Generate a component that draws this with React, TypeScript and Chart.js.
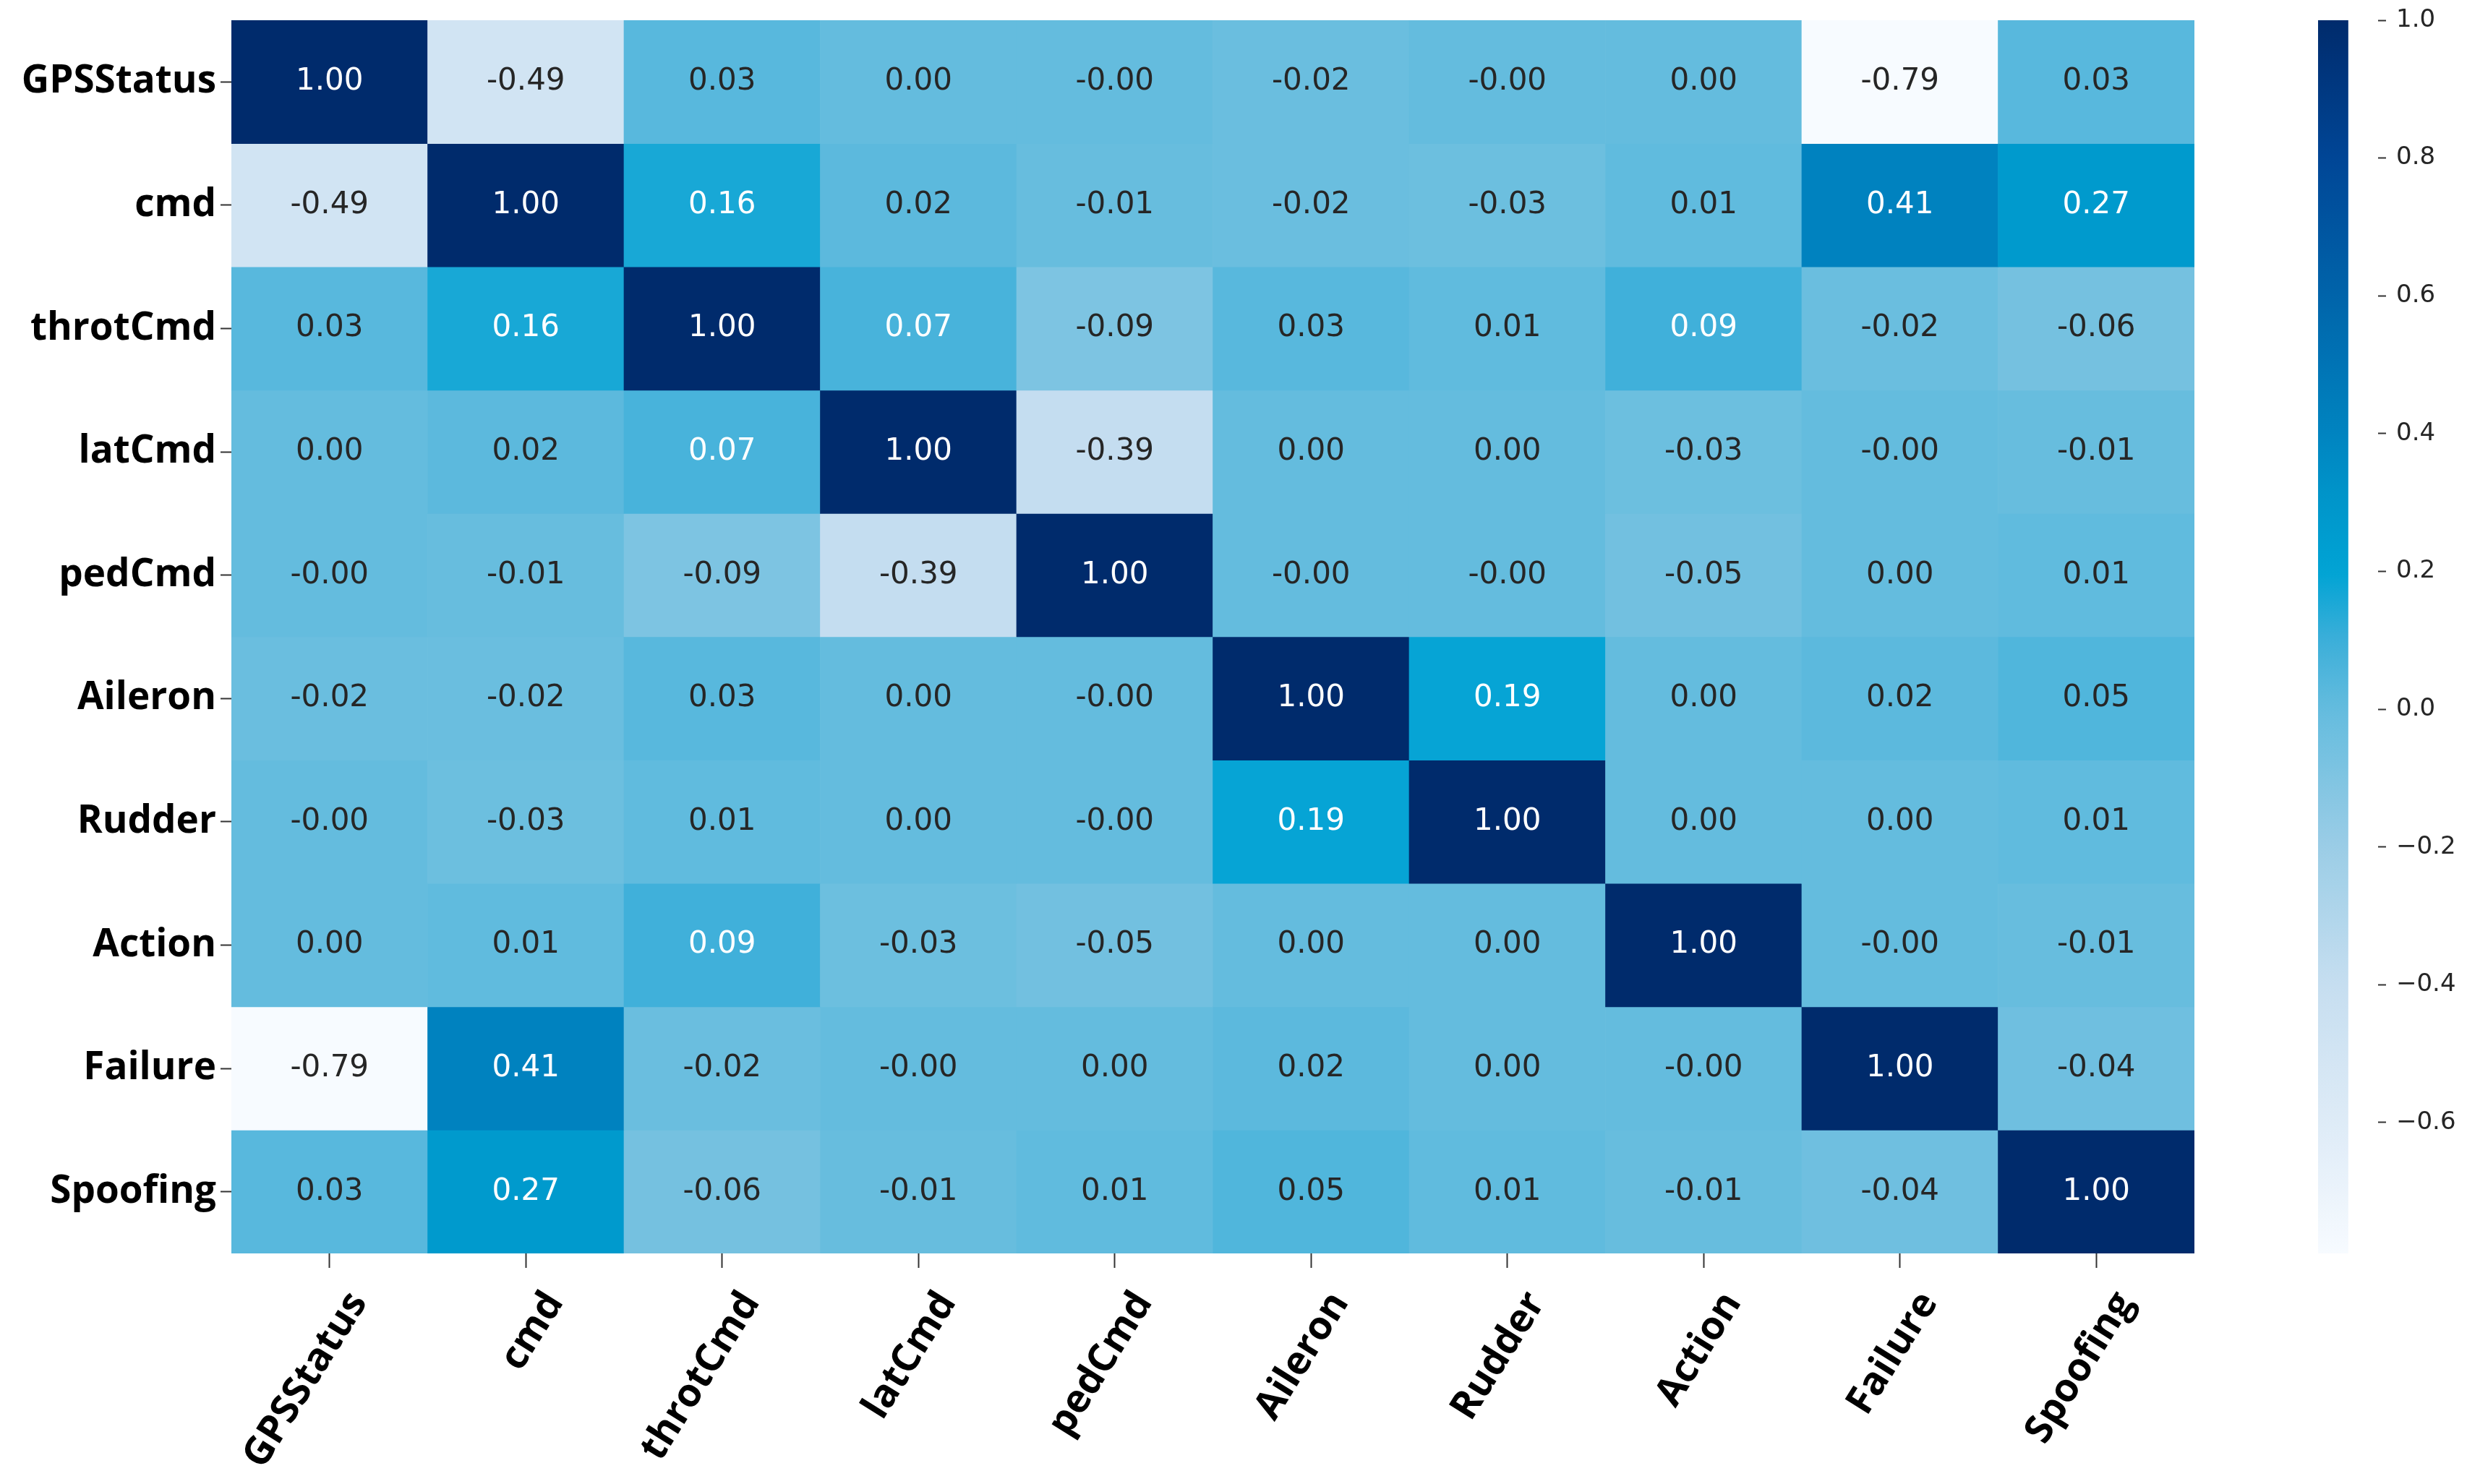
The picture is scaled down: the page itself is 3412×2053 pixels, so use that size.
import React, { useEffect, useRef } from "react";
import { Chart, registerables } from "chart.js";

Chart.register(...registerables);

// ---- data ----
const rowLabels = ["GPSStatus", "cmd", "throtCmd", "latCmd", "pedCmd", "Aileron", "Rudder", "Action", "Failure", "Spoofing"];
const colLabels = ["GPSStatus", "cmd", "throtCmd", "latCmd", "pedCmd", "Aileron", "Rudder", "Action", "Failure", "Spoofing"];

const rowGPSStatus = [1.0, -0.49, 0.03, 0.0, -0, -0.02, -0, 0.0, -0.79, 0.03];
const rowCmd = [-0.49, 1.0, 0.16, 0.02, -0.01, -0.02, -0.03, 0.01, 0.41, 0.27];
const rowThrotCmd = [0.03, 0.16, 1.0, 0.07, -0.09, 0.03, 0.01, 0.09, -0.02, -0.06];
const rowLatCmd = [0.0, 0.02, 0.07, 1.0, -0.39, 0.0, 0.0, -0.03, -0, -0.01];
const rowPedCmd = [-0, -0.01, -0.09, -0.39, 1.0, -0, -0, -0.05, 0.0, 0.01];
const rowAileron = [-0.02, -0.02, 0.03, 0.0, -0, 1.0, 0.19, 0.0, 0.02, 0.05];
const rowRudder = [-0, -0.03, 0.01, 0.0, -0, 0.19, 1.0, 0.0, 0.0, 0.01];
const rowAction = [0.0, 0.01, 0.09, -0.03, -0.05, 0.0, 0.0, 1.0, -0, -0.01];
const rowFailure = [-0.79, 0.41, -0.02, -0, 0.0, 0.02, 0.0, -0, 1.0, -0.04];
const rowSpoofing = [0.03, 0.27, -0.06, -0.01, 0.01, 0.05, 0.01, -0.01, -0.04, 1.0];

const matrix = [rowGPSStatus, rowCmd, rowThrotCmd, rowLatCmd, rowPedCmd, rowAileron, rowRudder, rowAction, rowFailure, rowSpoofing];

const cbMin = -0.79;
const cbMax = 1.0;
const cbTicks = [-0.6, -0.4, -0.2, 0.0, 0.2, 0.4, 0.6, 0.8, 1.0];

// ---- colormap (style) ----
const cmapStops: [number, number, number, number][] = [
  [-0.79, 247, 251, 255],
  [-0.6, 222, 235, 247],
  [-0.4, 198, 222, 240],
  [-0.2, 155, 205, 230],
  [0.0, 100, 188, 222],
  [0.1, 60, 175, 217],
  [0.2, 0, 163, 212],
  [0.3, 0, 150, 202],
  [0.4, 0, 132, 192],
  [0.6, 0, 100, 170],
  [0.8, 0, 70, 150],
  [1.0, 0, 43, 108],
];

function cmap(v: number): string {
  if (v <= cmapStops[0][0]) {
    const s = cmapStops[0];
    return `rgb(${s[1]},${s[2]},${s[3]})`;
  }
  for (let i = 1; i < cmapStops.length; i++) {
    const a = cmapStops[i - 1];
    const b = cmapStops[i];
    if (v <= b[0]) {
      const t = (v - a[0]) / (b[0] - a[0]);
      const r = Math.round(a[1] + (b[1] - a[1]) * t);
      const g = Math.round(a[2] + (b[2] - a[2]) * t);
      const bl = Math.round(a[3] + (b[3] - a[3]) * t);
      return `rgb(${r},${g},${bl})`;
    }
  }
  const s = cmapStops[cmapStops.length - 1];
  return `rgb(${s[1]},${s[2]},${s[3]})`;
}

function fmtCell(v: number): string {
  const neg = v < 0 || Object.is(v, -0);
  return (neg ? "-" : "") + Math.abs(v).toFixed(2);
}

function fmtCb(v: number): string {
  const r = Math.round(v * 10) / 10;
  return (r < 0 ? "\u2212" : "") + Math.abs(r).toFixed(1);
}

const W = 3412;
const H = 2053;
const MAIN_W = 3100;
const PLOT_LEFT = 320;
const PLOT_RIGHT = 3035;
const PLOT_TOP = 28;
const PLOT_BOTTOM = 1734;

const labelFont = "'Open Sans', 'DejaVu Sans', sans-serif";
const numFont = "'DejaVu Sans', sans-serif";

export default function App() {
  const mainRef = useRef<HTMLCanvasElement>(null);
  const cbRef = useRef<HTMLCanvasElement>(null);

  useEffect(() => {
    if (!mainRef.current || !cbRef.current) return;

    const annotate = {
      id: "annotate",
      afterDatasetsDraw(chart: any) {
        const ctx = chart.ctx;
        ctx.save();
        ctx.font = `42px ${numFont}`;
        ctx.textAlign = "center";
        ctx.textBaseline = "middle";
        chart.data.datasets.forEach((_ds: any, i: number) => {
          const meta = chart.getDatasetMeta(i);
          meta.data.forEach((el: any, j: number) => {
            const v = matrix[i][j];
            const p = el.getCenterPoint();
            ctx.fillStyle = v >= 0.06 ? "#ffffff" : "#262626";
            ctx.fillText(fmtCell(v), p.x, p.y);
          });
        });
        ctx.restore();
      },
    };

    const main = new Chart(mainRef.current, {
      type: "bar",
      data: {
        labels: colLabels,
        datasets: rowLabels.map((r, i) => ({
          label: r,
          data: colLabels.map(() => 1),
          backgroundColor: matrix[i].map((v) => cmap(v)),
          borderWidth: 0,
          barPercentage: 1,
          categoryPercentage: 1,
          stack: "cells",
        })),
      },
      options: {
        animation: false,
        responsive: false,
        devicePixelRatio: 1,
        events: [],
        layout: { padding: { top: PLOT_TOP, left: 0, right: MAIN_W - PLOT_RIGHT, bottom: 0 } },
        plugins: { legend: { display: false }, tooltip: { enabled: false } },
        scales: {
          x: {
            type: "category",
            stacked: true,
            offset: true,
            grid: { offset: false, drawOnChartArea: false, drawTicks: true, tickLength: 20, tickWidth: 2, tickColor: "#333333" },
            border: { display: false },
            ticks: {
              autoSkip: false,
              maxRotation: 58,
              minRotation: 58,
              padding: 22,
              labelOffset: 40,
              color: "#000000",
              font: { family: labelFont, size: 54, weight: "bold" },
            },
            afterFit: (s: any) => {
              s.height = H - PLOT_BOTTOM;
              s.paddingLeft = 0;
              s.paddingRight = 0;
            },
          },
          y: {
            type: "linear",
            stacked: true,
            min: 0,
            max: rowLabels.length,
            reverse: true,
            afterBuildTicks: (s: any) => {
              s.ticks = rowLabels.map((_, i) => ({ value: i + 0.5 }));
            },
            grid: { drawOnChartArea: false, drawTicks: true, tickLength: 15, tickWidth: 2, tickColor: "#333333" },
            border: { display: false },
            ticks: {
              autoSkip: false,
              padding: 6,
              color: "#000000",
              font: { family: labelFont, size: 53, weight: "bold" },
              callback: (_v: any, i: number) => rowLabels[i],
            },
            afterFit: (s: any) => {
              s.width = PLOT_LEFT;
              s.paddingTop = 0;
              s.paddingBottom = 0;
            },
          },
        },
      },
      plugins: [annotate],
    } as any);

    const cbLeft = 3206 - MAIN_W;
    const cbRight = 3289 - MAIN_W;
    const cbW = W - MAIN_W;

    const colorbar = new Chart(cbRef.current, {
      type: "bar",
      data: {
        labels: [""],
        datasets: [
          {
            label: "colorbar",
            data: [[cbMin, cbMax]],
            borderWidth: 0,
            barPercentage: 1,
            categoryPercentage: 1,
            backgroundColor: (c: any) => {
              const ch = c.chart;
              const area = ch.chartArea;
              if (!area) return cmap(0);
              const yScale = ch.scales.y;
              const y0 = yScale.getPixelForValue(cbMin);
              const y1 = yScale.getPixelForValue(cbMax);
              const g = ch.ctx.createLinearGradient(0, y0, 0, y1);
              const n = 60;
              for (let k = 0; k <= n; k++) {
                const v = cbMin + ((cbMax - cbMin) * k) / n;
                g.addColorStop(k / n, cmap(v));
              }
              return g;
            },
          },
        ],
      },
      options: {
        animation: false,
        responsive: false,
        devicePixelRatio: 1,
        events: [],
        layout: { padding: { top: PLOT_TOP, left: cbLeft, right: 0, bottom: H - PLOT_BOTTOM } },
        plugins: { legend: { display: false }, tooltip: { enabled: false } },
        scales: {
          x: { display: false, offset: false },
          y: {
            type: "linear",
            position: "right",
            min: cbMin,
            max: cbMax,
            afterBuildTicks: (s: any) => {
              s.ticks = cbTicks.map((v) => ({ value: v }));
            },
            grid: { drawOnChartArea: false, drawTicks: true, tickLength: 11, tickWidth: 2, tickColor: "#333333" },
            border: { display: false },
            ticks: {
              autoSkip: false,
              padding: 14,
              color: "#262626",
              font: { family: numFont, size: 34 },
              callback: (v: any) => fmtCb(Number(v)),
            },
            afterFit: (s: any) => {
              s.width = cbW - cbRight;
              s.paddingTop = 0;
              s.paddingBottom = 0;
            },
          },
        },
      },
    } as any);

    return () => {
      main.destroy();
      colorbar.destroy();
    };
  }, []);

  return (
    <div style={{ position: "fixed", left: 0, top: 0, width: W, height: H, background: "#ffffff", overflow: "hidden" }}>
      <canvas
        ref={mainRef}
        width={MAIN_W}
        height={H}
        style={{ position: "absolute", left: 0, top: 0, width: MAIN_W, height: H }}
      />
      <canvas
        ref={cbRef}
        width={W - MAIN_W}
        height={H}
        style={{ position: "absolute", left: MAIN_W, top: 0, width: W - MAIN_W, height: H }}
      />
    </div>
  );
}
